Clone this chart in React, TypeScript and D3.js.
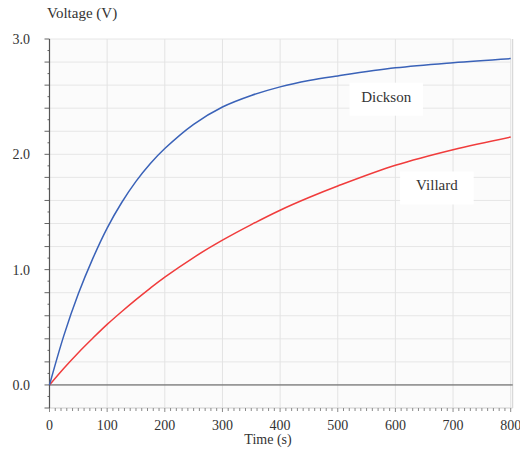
import React from "react";
import * as d3 from "d3";

const times = [0, 25, 50, 75, 100, 125, 150, 175, 200, 250, 300, 350, 400, 450, 500, 600, 700, 800];
const dickson = [0, 0.43, 0.79, 1.095, 1.36, 1.58, 1.765, 1.92, 2.05, 2.26, 2.41, 2.51, 2.585, 2.64, 2.68, 2.75, 2.795, 2.83];
const villard = [0, 0.145, 0.28, 0.405, 0.525, 0.635, 0.74, 0.84, 0.935, 1.105, 1.255, 1.39, 1.515, 1.625, 1.725, 1.905, 2.04, 2.15];
const xTickLabels = [0, 100, 200, 300, 400, 500, 600, 700, 800];
const yTickLabels = [0, 1, 2, 3];
const seriesLabels = [
  { name: "Dickson", t: 584, v: 2.5 },
  { name: "Villard", t: 672, v: 1.73 },
];

const W = 520;
const H = 450;
const left = 49.5;
const right = 510.7;
const top = 39;
const bottom = 408;
const FONT = "Liberation Serif";

export default function App() {
  const x = d3.scaleLinear().domain([0, 800]).range([left, right]);
  const y = d3.scaleLinear().domain([-0.2, 3.0]).range([bottom, top]);

  const line = (vals: number[]) =>
    d3
      .line<number>()
      .x((_, i) => x(times[i]))
      .y((d) => y(d))
      .curve(d3.curveCatmullRom.alpha(0.5))(vals) as string;

  const yGrid = d3.range(-2, 31, 2).map((k) => k / 10);
  const yMinor = d3.range(-2, 31, 1).map((k) => k / 10);
  const xGrid = d3.range(100, 801, 100);
  const xMinor = d3.range(0, 801, 10);

  return (
    <svg
      width={W}
      height={H}
      style={{ position: "absolute", left: 0, top: 0, background: "#fff" }}
    >
      <rect x={left} y={top} width={right - left + 2} height={bottom - top} fill="#fbfbfb" />
      {yGrid.map((v) => (
        <line key={"gy" + v} x1={left} x2={right} y1={y(v)} y2={y(v)} stroke="#e6e6e6" strokeWidth={1} />
      ))}
      {xGrid.map((t) => (
        <line key={"gx" + t} x1={x(t)} x2={x(t)} y1={top} y2={bottom} stroke="#e3e3e3" strokeWidth={1} />
      ))}
      <line x1={right + 2} x2={right + 2} y1={top} y2={bottom} stroke="#d0d0d0" strokeWidth={1} />
      <line x1={left} x2={right + 2} y1={bottom} y2={bottom} stroke="#d8d8d8" strokeWidth={1} />
      {xMinor.map((t) => (
        <line
          key={"tx" + t}
          x1={x(t)}
          x2={x(t)}
          y1={bottom}
          y2={bottom + (t % 100 === 0 ? 4 : 3)}
          stroke="#8a8a8a"
          strokeWidth={1}
        />
      ))}
      {yMinor.map((v, i) => (
        <line
          key={"ty" + i}
          x1={left - (i % 2 === 0 ? 5 : 2)}
          x2={left}
          y1={y(v)}
          y2={y(v)}
          stroke="#666"
          strokeWidth={1}
        />
      ))}
      <line x1={left} x2={left} y1={top} y2={bottom} stroke="#555" strokeWidth={1.2} />
      <line x1={left} x2={right + 2} y1={y(0)} y2={y(0)} stroke="#555" strokeWidth={1} />

      <path d={line(villard)} fill="none" stroke="#f03c3c" strokeWidth={1.5} />
      <path d={line(dickson)} fill="none" stroke="#3a62b8" strokeWidth={1.5} />

      {seriesLabels.map((s) => {
        const cx = x(s.t);
        const cy = y(s.v);
        const w = s.name.length * 10.5;
        return (
          <g key={s.name}>
            <rect x={cx - w / 2} y={cy - 14} width={w} height={33} fill="#fff" />
            <text x={cx} y={cy + 5} textAnchor="middle" fontSize={15} fill="#333" fontFamily={FONT}>
              {s.name}
            </text>
          </g>
        );
      })}

      {yTickLabels.map((v) => (
        <text key={"yl" + v} x={30} y={y(v)} dy="0.35em" textAnchor="end" fontSize={14} fill="#333" fontFamily={FONT}>
          {v.toFixed(1)}
        </text>
      ))}
      {xTickLabels.map((t) => (
        <text key={"xl" + t} x={x(t)} y={430} textAnchor="middle" fontSize={14} fill="#333" fontFamily={FONT}>
          {t}
        </text>
      ))}
      <text x={268} y={444} textAnchor="middle" fontSize={14} fill="#333" fontFamily={FONT}>
        Time (s)
      </text>
      <text x={47} y={18} fontSize={15} fill="#333" fontFamily={FONT}>
        Voltage (V)
      </text>
    </svg>
  );
}
